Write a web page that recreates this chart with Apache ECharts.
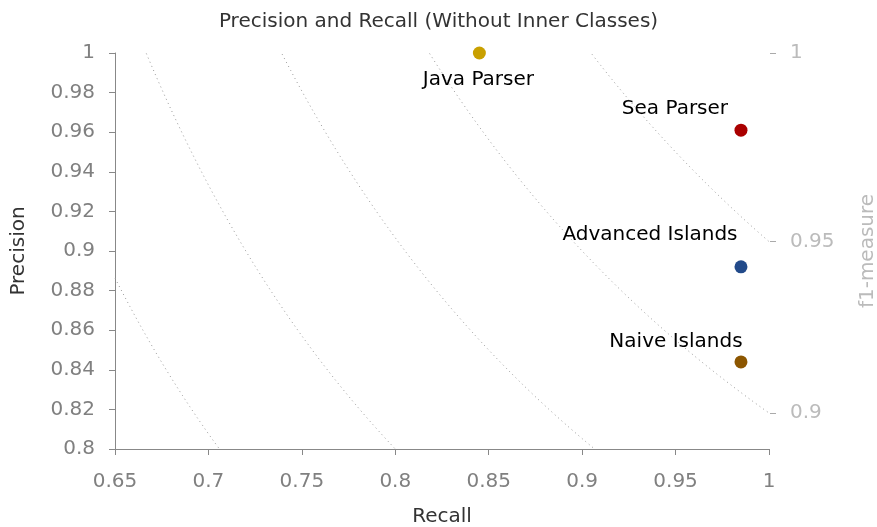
<!DOCTYPE html>
<html>
<head>
<meta charset="utf-8">
<script src="https://cdn.jsdelivr.net/npm/echarts@6/dist/echarts.min.js"></script>
<style>
  html, body { margin: 0; padding: 0; background: #fff; }
  #chart { width: 877px; height: 527px; }
</style>
</head>
<body>
<div id="chart"></div>
<script>
// parsers and their scores
const names = ['Java Parser', 'Sea Parser', 'Advanced Islands', 'Naive Islands']
const recall = [0.845, 0.985, 0.985, 0.985]
const precision = [1.0, 0.961, 0.892, 0.844]
// iso f1 curves drawn in the background
const f1Levels = [0.75, 0.8, 0.85, 0.9, 0.95]
// f1 ticks shown on the right axis
const f1Ticks = [0.9, 0.95, 1]

const colorList = ['#c9a000', '#aa0000', '#224a8a', '#8c5600']
const labelOffsets = [[-1, 27], [-66, -21], [-91, -32], [-65, -20]]

const font = 'DejaVu Sans'
const chart = echarts.init(document.getElementById('chart'))

// precision where a given f1 curve meets recall = 1
const f1ToPrecision = f => f / (2 - f)

const curveSeries = f1Levels.map(f => {
  const pts = []
  for (let r = 0.65; r <= 1.0001; r += 0.002) {
    const p = f * r / (2 * r - f)
    if (p >= 0.79 && p <= 1.01) pts.push([r, p])
  }
  return {
    type: 'line',
    data: pts,
    showSymbol: false,
    silent: true,
    clip: true,
    lineStyle: { color: '#999', width: 1, type: [1, 3.5] },
    z: 1,
  }
})

const option = {
  backgroundColor: '#fff',
  animation: false,
  title: {
    text: 'Precision and Recall (Without Inner Classes)',
    left: 'center',
    top: 7,
    textStyle: { fontFamily: font, fontSize: 20, fontWeight: 'normal', color: '#333' },
  },
  grid: { left: 115, right: 108, top: 53, bottom: 78, outerBoundsMode: 'none' },
  xAxis: {
    type: 'value',
    min: 0.65,
    max: 1,
    interval: 0.05,
    name: 'Recall',
    nameLocation: 'middle',
    nameGap: 58,
    nameTextStyle: { fontFamily: font, fontSize: 20, color: '#333' },
    axisLine: { show: true, lineStyle: { color: '#888' } },
    axisTick: { show: true, length: 6, lineStyle: { color: '#888' } },
    axisLabel: { fontFamily: font, fontSize: 20, color: '#808080', margin: 23 },
    splitLine: { show: false },
  },
  yAxis: [
    {
      type: 'value',
      min: 0.8,
      max: 1,
      interval: 0.02,
      name: 'Precision',
      nameLocation: 'middle',
      nameGap: 86,
      nameTextStyle: { fontFamily: font, fontSize: 20, color: '#333' },
      axisLine: { show: true, lineStyle: { color: '#888' } },
      axisTick: { show: true, length: 6, lineStyle: { color: '#888' } },
      axisLabel: {
        fontFamily: font, fontSize: 20, color: '#808080', margin: 20,
        padding: [4, 0, 0, 0],
      },
      splitLine: { show: false },
    },
    {
      type: 'value',
      position: 'right',
      min: 0.8,
      max: 1,
      offset: 1,
      name: 'f1-measure',
      nameLocation: 'middle',
      nameGap: 88,
      nameRotate: 90,
      nameTextStyle: { fontFamily: font, fontSize: 20, color: '#bbb' },
      axisLine: { show: false },
      axisTick: {
        show: true,
        length: 6,
        customValues: f1Ticks.map(f1ToPrecision),
        lineStyle: { color: '#aaa' },
      },
      axisLabel: {
        fontFamily: font,
        fontSize: 20,
        color: '#bbb',
        margin: 20,
        padding: [4, 0, 0, 0],
        customValues: f1Ticks.map(f1ToPrecision),
        formatter: v => String(Math.round(2 * v / (1 + v) * 100) / 100),
      },
      splitLine: { show: false },
    },
  ],
  series: [
    ...curveSeries,
    {
      type: 'scatter',
      symbolSize: 13,
      z: 5,
      itemStyle: { opacity: 1 },
      data: names.map((n, i) => ({
        name: n,
        value: [recall[i], precision[i]],
        itemStyle: { color: colorList[i], opacity: 1 },
        label: { offset: labelOffsets[i] },
      })),
      label: {
        show: true,
        position: 'inside',
        formatter: '{b}',
        fontFamily: font,
        fontSize: 20,
        color: '#000',
      },
    },
  ],
}

chart.setOption(option)
</script>
</body>
</html>
